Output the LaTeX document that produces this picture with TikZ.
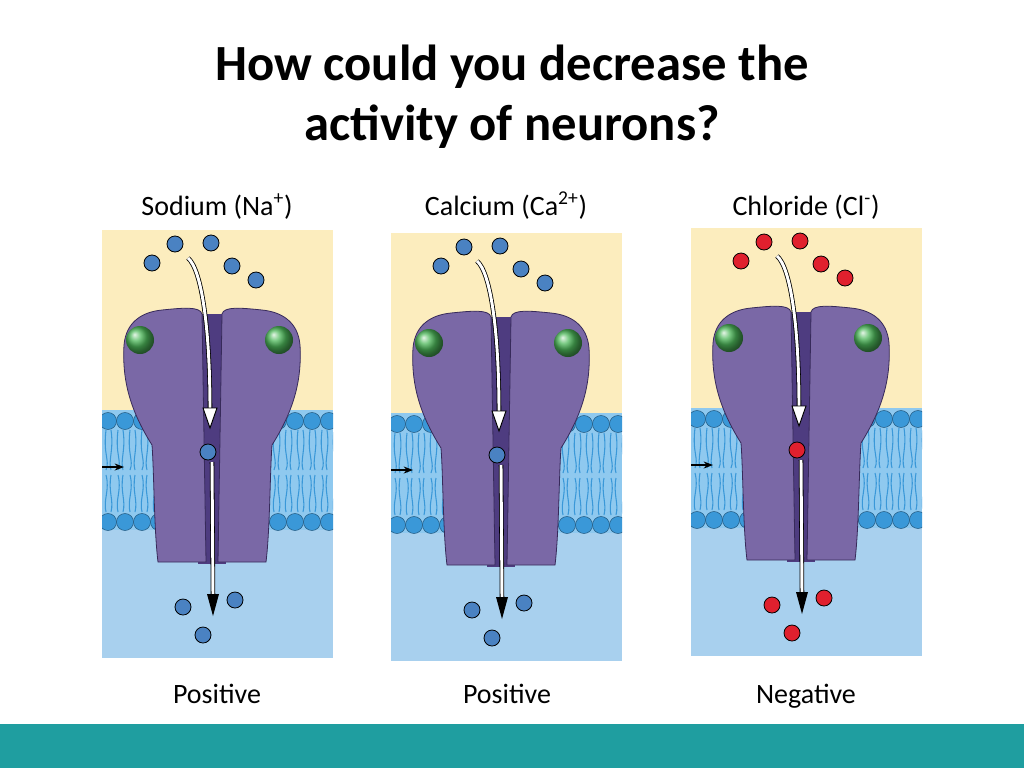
\documentclass[tikz,border=0pt]{standalone}
\usepackage{fontspec}
\setmainfont{Carlito}
\usetikzlibrary{arrows.meta}
\definecolor{yel}{HTML}{FCEDBE}
\definecolor{lowb}{HTML}{A8D0EE}
\definecolor{memb}{HTML}{8FC9EF}
\definecolor{head}{HTML}{3A98D8}
\definecolor{purp}{HTML}{7A68A6}
\definecolor{dpurp}{HTML}{4E3C80}
\definecolor{grn}{HTML}{4DB85A}
\definecolor{ionb}{HTML}{4A82C2}
\definecolor{ionr}{HTML}{E0202E}
\definecolor{teal}{HTML}{1F9EA0}
\tikzset{
 ion/.style={circle,draw=black,line width=0.6pt,minimum size=12pt,inner sep=0pt},
 lbl/.style={font=\fontsize{21}{24}\selectfont,anchor=base},
 half/.style={fill=purp,draw=dpurp!70!black,line width=0.6pt},
 flow/.style={draw=white,line width=2.2pt},
 flowb/.style={draw=black,line width=3.4pt},
}
\newcommand\chpanel[1]{%
 \begin{scope}
 \clip (0,0) rectangle (231,428);
 \fill[yel] (0,0) rectangle (231,180);
 \fill[lowb] (0,300) rectangle (231,428);
 \fill[memb] (0,180) rectangle (231,300);
 \foreach \x in {0,12,...,231}{
   \draw[head,line width=0.8pt] (\x+4,200) .. controls (\x+1,225) and (\x+8,230) .. (\x+4,240);
   \draw[head,line width=0.8pt] (\x+4,245) .. controls (\x+8,260) and (\x+1,270) .. (\x+4,282);
   \draw[head,line width=0.8pt] (\x+9,200) .. controls (\x+12,220) and (\x+6,230) .. (\x+9,240);
   \draw[head,line width=0.8pt] (\x+9,245) .. controls (\x+6,262) and (\x+12,270) .. (\x+9,282);
 }
 \foreach \x in {0,17,...,231}{
   \fill[head,draw=head!60!black,line width=0.4pt] (\x+6,191) circle (8.5);
   \fill[head,draw=head!60!black,line width=0.4pt] (\x+6,292) circle (8.5);
 }
 \end{scope}
 \draw[-{Stealth[length=7pt]},line width=1pt] (0,237) -- (22,237);
 \fill[dpurp] (96,84) rectangle (124,334);
 \path[half] (100,84) -- (104,332) -- (56,332) .. controls (52,300) and (52,240) .. (50,215)
   .. controls (28,180) and (20,150) .. (22,115) .. controls (24,92) and (40,82) .. (60,80) .. controls (80,78) and (98,76) .. cycle;
 \path[half] (120,84) -- (116,332) -- (164,332) .. controls (168,300) and (168,240) .. (170,215)
   .. controls (192,180) and (200,150) .. (198,115) .. controls (196,92) and (180,82) .. (160,80) .. controls (140,78) and (122,76) .. cycle;
 \shade[ball color=grn] (38,110) circle (14);
 \shade[ball color=grn] (177,110) circle (14);
 \draw[flowb] (86,28) .. controls (100,40) and (108,100) .. (108,180);
 \draw[flow] (86,28) .. controls (100,40) and (108,100) .. (108,180);
 \draw[fill=white,draw=black,line width=0.7pt] (101,178) -- (115,178) -- (108,198) -- cycle;
 \draw[flowb] (110,232) -- (111,366);
 \draw[flow] (110,232) -- (111,366);
 \fill[black] (105,364) -- (117,364) -- (111,386) -- cycle;
}
\begin{document}
\begin{tikzpicture}[x=0.75pt,y=-0.75pt]
\useasboundingbox (0,0) rectangle (1024,768);
\fill[white] (0,0) rectangle (1024,768);
\fill[teal] (0,724) rectangle (1024,768);
\node[font=\bfseries\fontsize{38}{45}\selectfont,align=center] (title) at (512,97) {How could you decrease the\\activity of neurons?};
\node[lbl] (l1) at (217,215) {Sodium (Na\textsuperscript{+})};
\node[lbl] (l2) at (506,215) {Calcium (Ca\textsuperscript{2+})};
\node[lbl] (l3) at (806,215) {Chloride (Cl\textsuperscript{-})};
\node[lbl] (b1) at (217,703) {Positive};
\node[lbl] (b2) at (507,703) {Positive};
\node[lbl] (b3) at (806,703) {Negative};
\foreach \ox/\oy/\c/\n in {102/230/ionb/a,391/233/ionb/b,691/228/ionr/c}{
 \begin{scope}[shift={(\ox,\oy)}]
  \chpanel{}
  \foreach \ix/\iy [count=\k] in {50/33,73/14,109/13,130/36,154/50,106/222,81/377,133/370,101/405}
   \node[ion,fill=\c] (\n\k) at (\ix,\iy) {};
 \end{scope}
}
\end{tikzpicture}
\end{document}
